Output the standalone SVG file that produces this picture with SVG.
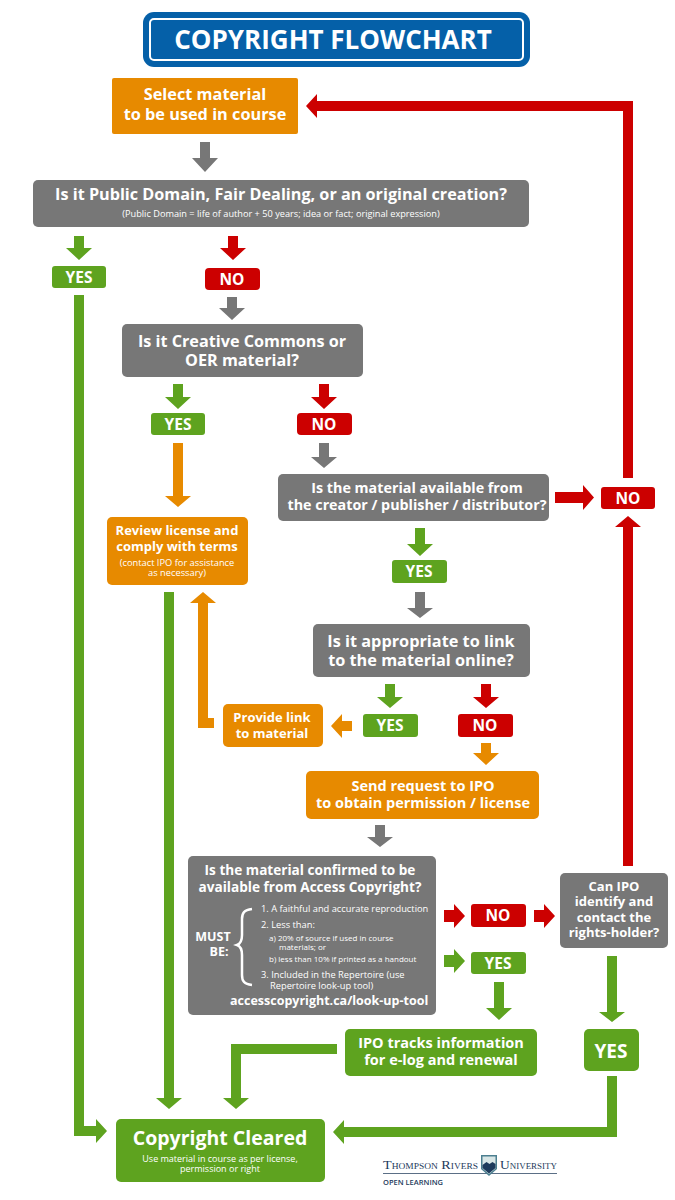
<svg xmlns="http://www.w3.org/2000/svg" width="675" height="1200" viewBox="0 0 675 1200">
<style>
text{font-family:"Open Sans","Noto Sans","Liberation Sans",sans-serif;fill:#fff;text-anchor:middle;font-weight:700}
.o{fill:#e78a00}.g{fill:#777}.v{fill:#5ea31f}.r{fill:#cc0000}
.s{font-weight:400}
.l{text-anchor:start}
.f{font-family:"Liberation Serif",serif;fill:#1d3a5c;text-anchor:start;font-weight:400;font-variant:small-caps}
</style>
<rect width="675" height="1200" fill="#fff"/>
<g id="title">
<rect x="143" y="12" width="387" height="55" rx="11" fill="#0560a8"/>
<rect x="150" y="19" width="373" height="41" rx="4" fill="#0560a8" stroke="#fff" stroke-width="2"/>
<text x="333" y="48.500" font-size="26">COPYRIGHT FLOWCHART</text>
</g>
<g id="connectors">
<path class="g" d="M200 142h10v16h8l-13 14-13-14h8z"/>
<path class="g" d="M227 297h10v11h8l-13 12-13-12h8z"/>
<path class="g" d="M319 443h10v14h8l-13 11-13-11h8z"/>
<path class="g" d="M415 592h10v16h8l-13 10-13-10h8z"/>
<path class="g" d="M375 825h10v12h8l-13 10-13-10h8z"/>
<path class="v" d="M74 236h10v12h8l-13 12-13-12h8z"/>
<path class="v" d="M173 384h10v13h8l-13 12-13-12h8z"/>
<path class="v" d="M415 528h10v16h8l-13 12-13-12h8z"/>
<path class="v" d="M385 684h10v13h8l-13 11-13-11h8z"/>
<path class="v" d="M444 955h10v-6l11 12-11 12v-6h-10z"/>
<path class="v" d="M494 982h10v26h8l-13 12-13-12h8z"/>
<path class="v" d="M607 956h10v56h8l-13 10-13-10h8z"/>
<path class="v" d="M74 295h10v831h12v-7l11 12-11 12v-7h-22z"/>
<path class="v" d="M164 592h10v506h8l-13 11-13-11h8z"/>
<path class="v" d="M337 1044v10h-96v44h8l-13 11-13-11h8v-54z"/>
<path class="v" d="M607 1076h10v61h-273v7l-11-12 11-12v7h263z"/>
<path class="r" d="M228 236h10v12h8l-13 12-13-12h8z"/>
<path class="r" d="M319 384h10v13h8l-13 12-13-12h8z"/>
<path class="r" d="M481 684h10v13h8l-13 11-13-11h8z"/>
<path class="r" d="M555 492h28v-7l11 12.500-11 12.500v-7h-28z"/>
<path class="r" d="M444 910h10v-6l11 12-11 12v-6h-10z"/>
<path class="r" d="M534 910h10v-6l11 12-11 12v-6h-10z"/>
<path class="r" d="M623 478V111H317v7l-11-12 11-12v7h316v377z"/>
<path class="r" d="M623 866V527h-8l13-11 13 11h-8v339z"/>
<path class="o" d="M173 443h10v53h8l-13 11-13-11h8z"/>
<path class="o" d="M481 743h10v10h8l-13 12-13-12h8z"/>
<path class="o" d="M352 721v10h-10v7l-11-12 11-12v7z"/>
<path class="o" d="M214 718v10h-16v-125h-8l13-11 13 11h-8v115z"/>
</g>
<g id="select"><rect class="o" x="112" y="78" width="186" height="56" rx="2"/>
<text x="205" y="100" font-size="16.300">Select material</text><text x="205" y="120" font-size="16.300">to be used in course</text></g>
<g id="q1"><rect class="g" x="33" y="180" width="496" height="47" rx="5"/>
<text x="281" y="200" font-size="16.200">Is it Public Domain, Fair Dealing, or an original creation?</text>
<text class="s" x="281" y="217" font-size="9.200">(Public Domain = life of author + 50 years; idea or fact; original expression)</text></g>
<g id="yes1"><rect class="v" x="52" y="266" width="54" height="22" rx="3"/><text x="79" y="283" font-size="15.500">YES</text></g>
<g id="no1"><rect class="r" x="205" y="268" width="55" height="22" rx="4"/><text x="232" y="285" font-size="15.500">NO</text></g>
<g id="q2"><rect class="g" x="122" y="324" width="241" height="53" rx="5"/>
<text x="242" y="347" font-size="16.200">Is it Creative Commons or</text><text x="242" y="366" font-size="16.200">OER material?</text></g>
<g id="yes2"><rect class="v" x="151" y="413" width="54" height="22" rx="3"/><text x="178" y="430" font-size="15.500">YES</text></g>
<g id="no2"><rect class="r" x="297" y="413" width="55" height="22" rx="4"/><text x="324" y="430" font-size="15.500">NO</text></g>
<g id="q3"><rect class="g" x="278" y="474" width="271" height="47" rx="5"/>
<text x="417" y="493" font-size="14.300">Is the material available from</text><text x="417" y="510" font-size="14.300">the creator / publisher / distributor?</text></g>
<g id="no3"><rect class="r" x="601" y="487" width="54" height="22" rx="3"/><text x="628" y="504" font-size="15.500">NO</text></g>
<g id="review"><rect class="o" x="107" y="517" width="141" height="68" rx="5"/>
<text x="177" y="535" font-size="13">Review license and</text><text x="177" y="551" font-size="13">comply with terms</text>
<text class="s" x="177" y="566" font-size="9.300">(contact IPO for assistance</text><text class="s" x="177" y="576" font-size="9.300">as necessary)</text></g>
<g id="yes3"><rect class="v" x="392" y="560" width="55" height="23" rx="3"/><text x="419" y="577" font-size="15.500">YES</text></g>
<g id="q4"><rect class="g" x="313" y="624" width="217" height="53" rx="5"/>
<text x="421" y="647" font-size="16.300">Is it appropriate to link</text><text x="421" y="666" font-size="16.300">to the material online?</text></g>
<g id="yes4"><rect class="v" x="363" y="714" width="55" height="23" rx="3"/><text x="390" y="731" font-size="15.500">YES</text></g>
<g id="no4"><rect class="r" x="458" y="714" width="55" height="23" rx="3"/><text x="485" y="731" font-size="15.500">NO</text></g>
<g id="provide"><rect class="o" x="223" y="704" width="100" height="43" rx="5"/>
<text x="272" y="722" font-size="13">Provide link</text><text x="272" y="738" font-size="13">to material</text></g>
<g id="send"><rect class="o" x="306" y="771" width="233" height="48" rx="5"/>
<text x="423" y="791" font-size="14.500">Send request to IPO</text><text x="423" y="808" font-size="14.500">to obtain permission / license</text></g>
<g id="q5"><rect class="g" x="188" y="856" width="248" height="159" rx="5"/>
<text x="310" y="875" font-size="13.600">Is the material confirmed to be</text><text x="310" y="892" font-size="13.600">available from Access Copyright?</text>
<text x="213" y="941" font-size="12.500">MUST</text><text x="219" y="956" font-size="12.500">BE:</text>
<path d="M252 909c-8 1-10 4-10 10v16c0 6-2 9-5 10 3 1 5 4 5 10v20c0 6 2 9 10 10" fill="none" stroke="#fff" stroke-width="2.500"/>
<text class="s l" x="261" y="912" font-size="9.300">1. A faithful and accurate reproduction</text>
<text class="s l" x="261" y="928" font-size="9.300">2. Less than:</text>
<text class="s l" x="269" y="941" font-size="8">a) 20% of source if used in course</text>
<text class="s l" x="279" y="950" font-size="8">materials; or</text>
<text class="s l" x="269" y="962" font-size="8">b) less than 10% if printed as a handout</text>
<text class="s l" x="261" y="978" font-size="9.300">3. Included in the Repertoire (use</text>
<text class="s l" x="270" y="989" font-size="9.300">Repertoire look-up tool)</text>
<text class="l" x="230" y="1005" font-size="12.500">accesscopyright.ca/look-up-tool</text></g>
<g id="no5"><rect class="r" x="471" y="904" width="55" height="23" rx="3"/><text x="498" y="921" font-size="15.500">NO</text></g>
<g id="yes5"><rect class="v" x="471" y="952" width="55" height="22" rx="3"/><text x="498" y="969" font-size="15.500">YES</text></g>
<g id="canipo"><rect class="g" x="560" y="873" width="108" height="75" rx="5"/>
<text x="614" y="891" font-size="13">Can IPO</text><text x="614" y="906" font-size="13">identify and</text><text x="614" y="922" font-size="13">contact the</text><text x="614" y="937" font-size="13">rights-holder?</text></g>
<g id="ipotracks"><rect class="v" x="345" y="1029" width="192" height="47" rx="5"/>
<text x="441" y="1048" font-size="14.500">IPO tracks information</text><text x="441" y="1065" font-size="14.500">for e-log and renewal</text></g>
<g id="yes6"><rect class="v" x="584" y="1029" width="55" height="42" rx="5"/><text x="611" y="1058" font-size="19">YES</text></g>
<g id="cleared"><rect class="v" x="116" y="1119" width="209" height="63" rx="5"/>
<text x="220" y="1145" font-size="19.500">Copyright Cleared</text>
<text class="s" x="220" y="1162" font-size="9">Use material in course as per license,</text><text class="s" x="220" y="1172" font-size="9">permission or right</text></g>
<g id="logo">
<text class="f" x="383" y="1169" font-size="12" textLength="95" lengthAdjust="spacingAndGlyphs">Thompson Rivers</text>
<text class="f" x="500" y="1169" font-size="12" textLength="57" lengthAdjust="spacingAndGlyphs">University</text>
<rect x="383" y="1173" width="174" height="1" fill="#5b6f86"/>
<path d="M481 1155h16v14l-8 7-8-7z" fill="#4c7f90"/>
<path d="M482.500 1156.500h13v12l-6.500 5.500-6.500-5.500z" fill="#d8e6e6"/>
<path d="M482.500 1165l4-3 3 2 3-2 3 2v4l-6.500 5.500-6.500-5.500z" fill="#1d3a5c"/>
<text class="f" x="383" y="1184.500" font-size="7.500" style="font-family:'Open Sans',sans-serif;font-variant:normal;font-weight:600">OPEN LEARNING</text>
</g>
</svg>
